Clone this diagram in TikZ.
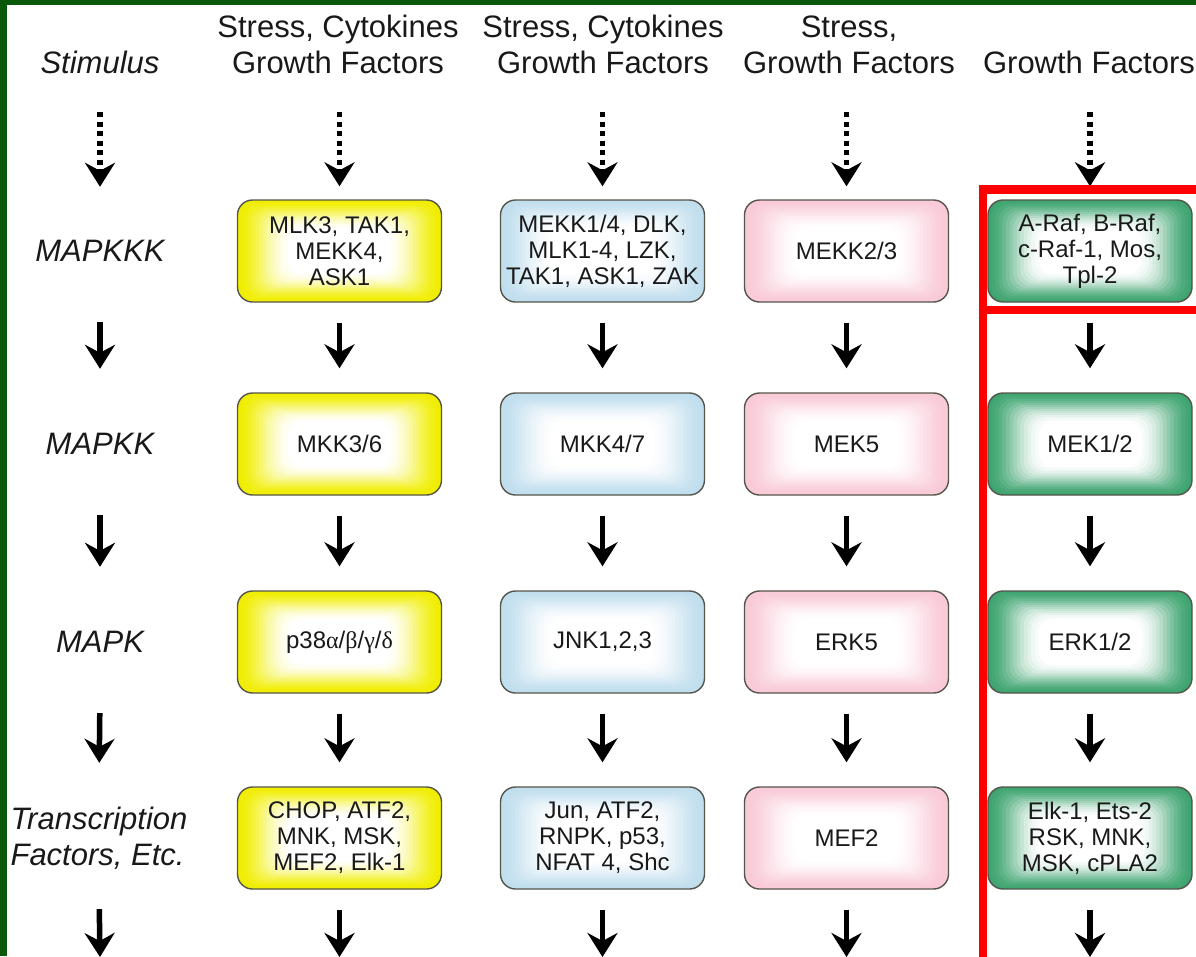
\documentclass[tikz,border=0pt]{standalone}
\usepackage{fontspec}
\setmainfont{Liberation Sans}
\newfontfamily\grk{Liberation Serif}
\usetikzlibrary{arrows.meta,calc}

\definecolor{bggreen}{RGB}{10,88,10}
\definecolor{cyel}{RGB}{240,238,0}
\definecolor{cblu}{RGB}{192,222,238}
\definecolor{cpnk}{RGB}{249,202,215}
\definecolor{cgrn}{RGB}{62,164,112}
\definecolor{edgec}{RGB}{85,85,75}
\definecolor{txt}{RGB}{25,25,25}

\newcommand\glowlayers[1]{%
  \foreach \p/\d in {97/2,92/4,85/6,77/8,68/10,58/12,48/14,38/16,29/18,21/20,14/22,8/24,4/26,0/28}{%
    \fill[#1!\p!white, rounded corners=14pt]
      ([shift={(1.8*\d pt,\d pt)}]path picture bounding box.south west) rectangle
      ([shift={(-1.8*\d pt,-\d pt)}]path picture bounding box.north east);
  }%
}

\tikzset{
  kbox/.style={draw=edgec, line width=1.4pt, rounded corners=15pt,
    minimum width=204pt, minimum height=102pt, inner sep=0pt, align=center,
    text=txt, font=\fontsize{24}{26}\selectfont, fill=#1,
    path picture={\glowlayers{#1}}},
  lab/.style={minimum height=102pt, inner sep=0pt, text=txt,
    font=\fontsize{31}{36}\selectfont\itshape},
  hdr/.style={anchor=south, inner sep=0pt, text depth=8pt, align=center, text=txt,
    font=\fontsize{31}{36}\selectfont},
  arr/.style={line width=5.5pt, -{Stealth[length=24pt,width=30pt,inset=8pt]},
    shorten <=20pt, shorten >=24pt},
  darr/.style={line width=5.5pt, dash pattern=on 5pt off 4.5pt,
    -{Stealth[length=24pt,width=30pt,inset=8pt]},
    shorten <=30pt, shorten >=13pt},
  barr/.style={line width=5.5pt, -{Stealth[length=24pt,width=30pt,inset=8pt]},
    shorten <=20pt},
}

\begin{document}
\begin{tikzpicture}[x=1pt,y=-1pt]
\useasboundingbox (0,0) rectangle (1196,956);
\clip (0,0) rectangle (1196,956);
\fill[bggreen] (0,0) rectangle (1196,956);
\fill[white] (7,5) rectangle (1196,956);

% headers
\node[hdr] (h1) at (100,82) {\itshape Stimulus};
\node[hdr] (h2) at (338,82) {Stress, Cytokines\\Growth Factors};
\node[hdr] (h3) at (603,82) {Stress, Cytokines\\Growth Factors};
\node[hdr] (h4) at (849,82) {Stress,\\Growth Factors};
\node[hdr] (h5) at (1089,82) {Growth Factors};

% row labels
\node[lab] (l1) at (100,251) {MAPKKK};
\node[lab] (l2) at (100,444) {MAPKK};
\node[lab] (l3) at (100,642) {MAPK};
\node[lab, align=left] (l4) at (99,838) {Transcription\\Factors, Etc.};

% column 2
\node[kbox=cyel] (a1) at (339.5,251) {MLK3, TAK1,\\MEKK4,\\ASK1};
\node[kbox=cyel] (a2) at (339.5,444) {MKK3/6};
\node[kbox=cyel] (a3) at (339.5,642) {p38{\grk α}/{\grk β}/{\grk γ}/{\grk δ}};
\node[kbox=cyel] (a4) at (339.5,838) {CHOP, ATF2,\\MNK, MSK,\\MEF2, Elk-1};

% column 3
\node[kbox=cblu] (b1) at (602.5,251) {MEKK1/4, DLK,\\MLK1-4, LZK,\\TAK1, ASK1, ZAK};
\node[kbox=cblu] (b2) at (602.5,444) {MKK4/7};
\node[kbox=cblu] (b3) at (602.5,642) {JNK1,2,3};
\node[kbox=cblu] (b4) at (602.5,838) {Jun, ATF2,\\RNPK, p53,\\NFAT 4, Shc};

% column 4
\node[kbox=cpnk] (c1) at (846.5,251) {MEKK2/3};
\node[kbox=cpnk] (c2) at (846.5,444) {MEK5};
\node[kbox=cpnk] (c3) at (846.5,642) {ERK5};
\node[kbox=cpnk] (c4) at (846.5,838) {MEF2};

% column 5
\node[kbox=cgrn] (d1) at (1090,251) {A-Raf, B-Raf,\\c-Raf-1, Mos,\\Tpl-2};
\node[kbox=cgrn] (d2) at (1090,444) {MEK1/2};
\node[kbox=cgrn] (d3) at (1090,642) {ERK1/2};
\node[kbox=cgrn] (d4) at (1090,838) {Elk-1, Ets-2\\RSK, MNK,\\MSK, cPLA2};

% bottom ends
\coordinate (e1) at (100,957);
\coordinate (e2) at (339.5,957);
\coordinate (e3) at (602.5,957);
\coordinate (e4) at (846.5,957);
\coordinate (e5) at (1090,957);

% dotted arrows
\draw[darr] (h1.south) -- (l1.north);
\draw[darr] (h2.south -| a1) -- (a1.north);
\draw[darr] (h3.south -| b1) -- (b1.north);
\draw[darr] (h4.south -| c1) -- (c1.north);
\draw[darr] (h5.south -| d1) -- (d1.north);

% solid arrows
\foreach \col in {l,a,b,c,d}{
  \draw[arr] (\col1.south) -- (\col2.north);
  \draw[arr] (\col2.south) -- (\col3.north);
  \draw[arr] (\col3.south) -- (\col4.north);
}
\draw[barr] (l4.south) -- (e1);
\draw[barr] (a4.south) -- (e2);
\draw[barr] (b4.south) -- (e3);
\draw[barr] (c4.south) -- (e4);
\draw[barr] (d4.south) -- (e5);

% red frames
\draw[red, line width=8.5pt, line join=miter] (1215,189.5) -- (983,189.5) -- (983,975);
\draw[red, line width=8.5pt] (983,310) -- (1215,310);
\end{tikzpicture}
\end{document}
